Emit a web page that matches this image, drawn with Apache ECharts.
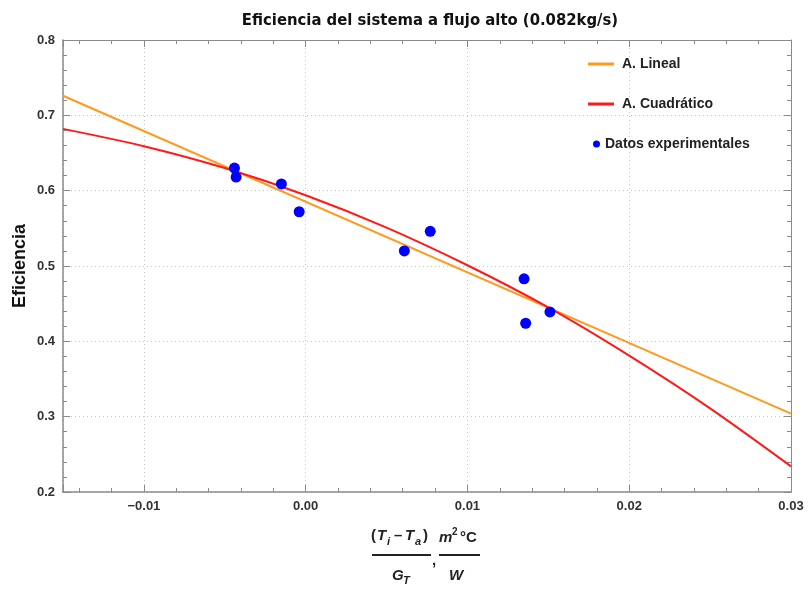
<!DOCTYPE html>
<html>
<head>
<meta charset="utf-8">
<script src="https://cdn.jsdelivr.net/npm/echarts@6/dist/echarts.min.js"></script>
<style>
  html, body { margin: 0; padding: 0; background: #fff; }
  #main { width: 809px; height: 590px; }
</style>
</head>
<body>
<div id="main"></div>
<script>
// datos experimentales (x = (Ti-Ta)/GT, y = eficiencia)
var datosX = [-0.0044, -0.0043, -0.0015, -0.0004, 0.0061, 0.0077, 0.0135, 0.0136, 0.0151];
var datosY = [0.630, 0.618, 0.609, 0.572, 0.520, 0.546, 0.483, 0.424, 0.439];

// ajuste lineal (extremos)
var linealX = [-0.015, 0.03];
var linealY = [0.726, 0.304];

// ajuste cuadratico
var cuadX = [-0.015, -0.01, -0.005, 0, 0.005, 0.01, 0.015, 0.02, 0.025, 0.03];
var cuadY = [0.682, 0.659, 0.630, 0.594, 0.551, 0.501, 0.445, 0.381, 0.311, 0.234];

function pares(xs, ys) {
    var out = [];
    for (var i = 0; i < xs.length; i++) out.push([xs[i], ys[i]]);
    return out;
}

var myChart = echarts.init(document.getElementById('main'));

var fuente = 'Liberation Sans';
var gris = '#8a8a8a';
var rejilla = { show: true, lineStyle: { color: '#c4c4c4', type: [1, 3], width: 1 } };

option = {
    animation: false,
    title: {
        text: 'Eficiencia del sistema a flujo alto (0.082kg/s)',
        left: 425, top: 7, textAlign: 'center',
        textStyle: { fontSize: 16.5, fontWeight: 'bold', color: '#111', fontFamily: 'DejaVu Sans Condensed' }
    },
    grid: { left: 63, right: 18, top: 40, bottom: 98 },
    legend: [
        {
            orient: 'vertical', left: 583, top: 52, itemGap: 26,
            itemWidth: 26, itemHeight: 3, icon: 'rect',
            textStyle: { fontSize: 14, fontWeight: 'bold', color: '#222', fontFamily: fuente, padding: [0, 0, 0, 3] },
            data: ['A. Lineal', 'A. Cuadrático']
        },
        {
            left: 588, top: 132, itemWidth: 7, itemHeight: 7, icon: 'circle',
            textStyle: { fontSize: 14, fontWeight: 'bold', color: '#222', fontFamily: fuente },
            data: ['Datos experimentales']
        }
    ],
    xAxis: [
        {
            type: 'value', min: -0.015, max: 0.03, position: 'bottom',
            axisLine: { show: true, onZero: false, lineStyle: { color: gris, width: 1.5 } },
            axisTick: { show: true, inside: true, length: 7, lineStyle: { color: gris } },
            minorTick: { show: true, splitNumber: 5, length: 4, lineStyle: { color: gris } },
            splitLine: rejilla,
            axisLabel: {
                showMinLabel: false, margin: 8,
                fontSize: 13, fontWeight: 'bold', color: '#333', fontFamily: fuente,
                formatter: function (v) { return (v < 0 ? '\u2212' : '') + Math.abs(v).toFixed(2); }
            }
        },
        {
            type: 'value', min: -0.015, max: 0.03, position: 'top',
            axisLine: { show: true, onZero: false, lineStyle: { color: gris, width: 1 } },
            axisTick: { show: true, inside: true, length: 7, lineStyle: { color: gris } },
            minorTick: { show: true, splitNumber: 5, length: 4, lineStyle: { color: gris } },
            splitLine: { show: false },
            axisLabel: { show: false }
        }
    ],
    yAxis: [
        {
            type: 'value', min: 0.2, max: 0.8, interval: 0.1, position: 'left',
            name: 'Eficiencia', nameLocation: 'middle', nameGap: 34, nameRotate: 90,
            nameMoveOverlap: false,
            nameTextStyle: { fontSize: 18, fontWeight: 'bold', color: '#111', fontFamily: fuente },
            axisLine: { show: true, onZero: false, lineStyle: { color: gris, width: 1.5 } },
            axisTick: { show: true, inside: true, length: 7, lineStyle: { color: gris } },
            minorTick: { show: true, splitNumber: 5, length: 4, lineStyle: { color: gris } },
            splitLine: rejilla,
            axisLabel: {
                margin: 8, fontSize: 13, fontWeight: 'bold', color: '#333', fontFamily: fuente,
                formatter: function (v) { return v.toFixed(1); }
            }
        },
        {
            type: 'value', min: 0.2, max: 0.8, interval: 0.1, position: 'right',
            axisLine: { show: true, onZero: false, lineStyle: { color: gris, width: 1 } },
            axisTick: { show: true, inside: true, length: 7, lineStyle: { color: gris } },
            minorTick: { show: true, splitNumber: 5, length: 4, lineStyle: { color: gris } },
            splitLine: { show: false },
            axisLabel: { show: false }
        }
    ],
    series: [
        {
            name: 'A. Lineal', type: 'line', data: pares(linealX, linealY),
            showSymbol: false, symbol: 'none', z: 3,
            itemStyle: { color: '#ff9a1f' },
            lineStyle: { color: '#ff9a1f', width: 2 }
        },
        {
            name: 'A. Cuadrático', type: 'line', data: pares(cuadX, cuadY),
            showSymbol: false, symbol: 'none', smooth: 0.3, z: 4,
            itemStyle: { color: '#ff1a1a' },
            lineStyle: { color: '#ff1a1a', width: 2 }
        },
        {
            name: 'Datos experimentales', type: 'scatter', data: pares(datosX, datosY),
            symbolSize: 11, z: 5,
            itemStyle: { color: '#0000ff', opacity: 1 }
        }
    ],
    graphic: [
        { type: 'text', left: 371, top: 528, style: { text: '(', fontSize: 15, fontWeight: 'bold', fill: '#222', fontFamily: fuente } },
        { type: 'text', left: 377, top: 528, style: { text: 'T', fontSize: 15, fontWeight: 'bold', fontStyle: 'italic', fill: '#222', fontFamily: fuente } },
        { type: 'text', left: 387, top: 536, style: { text: 'i', fontSize: 11, fontWeight: 'bold', fontStyle: 'italic', fill: '#222', fontFamily: fuente } },
        { type: 'text', left: 394, top: 528, style: { text: '\u2013', fontSize: 15, fontWeight: 'bold', fill: '#222', fontFamily: fuente } },
        { type: 'text', left: 405, top: 528, style: { text: 'T', fontSize: 15, fontWeight: 'bold', fontStyle: 'italic', fill: '#222', fontFamily: fuente } },
        { type: 'text', left: 415, top: 536, style: { text: 'a', fontSize: 11, fontWeight: 'bold', fontStyle: 'italic', fill: '#222', fontFamily: fuente } },
        { type: 'text', left: 423, top: 528, style: { text: ')', fontSize: 15, fontWeight: 'bold', fill: '#222', fontFamily: fuente } },
        { type: 'rect', shape: { x: 372, y: 554, width: 59, height: 2 }, style: { fill: '#222' } },
        { type: 'text', left: 392, top: 568, style: { text: 'G', fontSize: 15, fontWeight: 'bold', fontStyle: 'italic', fill: '#222', fontFamily: fuente } },
        { type: 'text', left: 403, top: 575, style: { text: 'T', fontSize: 11, fontWeight: 'bold', fontStyle: 'italic', fill: '#222', fontFamily: fuente } },
        { type: 'text', left: 432, top: 553, style: { text: ',', fontSize: 15, fontWeight: 'bold', fill: '#222', fontFamily: fuente } },
        { type: 'text', left: 439, top: 530, style: { text: 'm', fontSize: 15, fontWeight: 'bold', fontStyle: 'italic', fill: '#222', fontFamily: fuente } },
        { type: 'text', left: 452, top: 527, style: { text: '2', fontSize: 10, fontWeight: 'bold', fill: '#222', fontFamily: fuente } },
        { type: 'text', left: 460, top: 530, style: { text: '\u00b0C', fontSize: 15, fontWeight: 'bold', fill: '#222', fontFamily: fuente } },
        { type: 'rect', shape: { x: 439, y: 554, width: 41, height: 2 }, style: { fill: '#222' } },
        { type: 'text', left: 449, top: 568, style: { text: 'W', fontSize: 15, fontWeight: 'bold', fontStyle: 'italic', fill: '#222', fontFamily: fuente } }
    ]
};

myChart.setOption(option);
</script>
</body>
</html>
